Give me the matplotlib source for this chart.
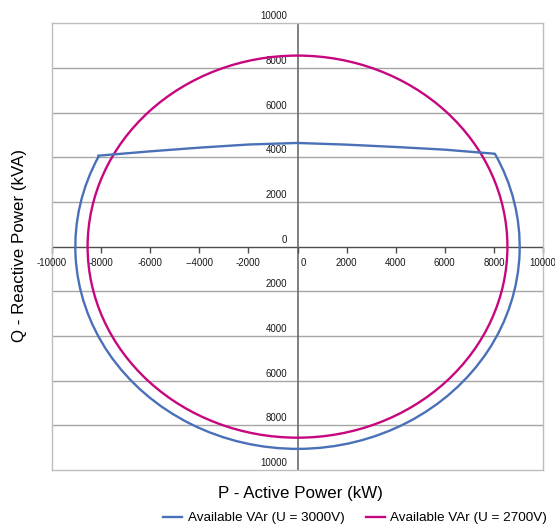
import numpy as np
import matplotlib.pyplot as plt
from matplotlib.patches import Arc, Circle
from matplotlib.lines import Line2D

plt.rcParams['font.family'] = ['Liberation Sans', 'DejaVu Sans']

# axis ticks (kW / kVA)
x_ticks = [-10000, -8000, -6000, -4000, -2000, 0, 2000, 4000, 6000, 8000, 10000]
x_tick_labels = ['-10000', '-8000', '-6000', '--4000', '-2000', '0',
                 '2000', '4000', '6000', '8000', '10000']
y_ticks = [-10000, -8000, -6000, -4000, -2000, 0, 2000, 4000, 6000, 8000, 10000]
y_tick_labels = ['10000', '8000', '6000', '4000', '2000', '0',
                 '2000', '4000', '6000', '8000', '10000']

# U = 3000V: flat top limit + circular current limit
top_p_3000 = [-8110, -6000, -4000, -2000, 0, 2000, 4000, 6000, 8000]
top_q_3000 = [4070, 4265, 4430, 4570, 4640, 4565, 4460, 4340, 4160]
radius_3000 = 9050
arc_start_3000 = 153.4   # deg, left corner
arc_end_3000 = 387.5     # deg, right corner (27.5 + 360)

# U = 2700V: full circle
radius_2700 = 8550

blue = '#4a70b8'
magenta = '#c6077f'

fig = plt.figure(figsize=(5.55, 5.27), dpi=100)
ax = fig.add_axes([0.0937, 0.108, 0.8847, 0.848])
ax.set_xlim(-10000, 10000)
ax.set_ylim(-10000, 10000)

for s in ax.spines.values():
    s.set_color('#bdbdbd')
    s.set_linewidth(1.0)
ax.set_xticks([])
ax.set_yticks([])

for y in y_ticks[1:-1]:
    if y != 0:
        ax.axhline(y, color='#a6a6a6', lw=1.0, zorder=1)
ax.axhline(0, color='#4d4d4d', lw=1.0, zorder=2)
ax.axvline(0, color='#6b6b6b', lw=1.2, zorder=2)

# x ticks hanging down from the zero line
ax.plot(x_ticks, [0] * len(x_ticks), ls='none', marker=3, ms=4,
        mew=1.0, color='#4d4d4d', zorder=2, clip_on=False)

for x, lab in zip(x_ticks, x_tick_labels):
    ha = 'left' if x == 0 else 'center'
    dx = 2 if x == 0 else 0
    ax.annotate(lab, xy=(x, 0), xytext=(dx, -12), textcoords='offset points',
                ha=ha, va='center', fontsize=7, color='#1a1a1a',
                annotation_clip=False)

for y, lab in zip(y_ticks, y_tick_labels):
    ax.annotate(lab, xy=(0, y), xytext=(-7.5, 5), textcoords='offset points',
                ha='right', va='center', fontsize=7, color='#1a1a1a',
                annotation_clip=False)

# curves
ax.plot(top_p_3000, top_q_3000, color=blue, lw=1.7, zorder=4,
        solid_joinstyle='round')
ax.add_patch(Arc((0, 0), 2 * radius_3000, 2 * radius_3000,
                 theta1=arc_start_3000, theta2=arc_end_3000,
                 color=blue, lw=1.7, zorder=4))
ax.add_patch(Circle((0, 0), radius_2700, fill=False,
                    edgecolor=magenta, lw=1.7, zorder=3))

fig.text(0.541, 0.0645, 'P - Active Power (kW)', ha='center', va='center',
         fontsize=12.2)
fig.text(0.036, 0.535, 'Q - Reactive Power (kVA)', ha='center', va='center',
         fontsize=12.2, rotation=90)

handles = [Line2D([], [], color=blue, lw=1.7),
           Line2D([], [], color=magenta, lw=1.7)]
fig.legend(handles, ['Available VAr (U = 3000V)', 'Available VAr (U = 2700V)'],
           loc='center', bbox_to_anchor=(0.64, 0.017), ncol=2, frameon=False,
           fontsize=9.7, handlelength=1.4, handletextpad=0.4, columnspacing=1.6)

fig.savefig('out.png', dpi=100)
